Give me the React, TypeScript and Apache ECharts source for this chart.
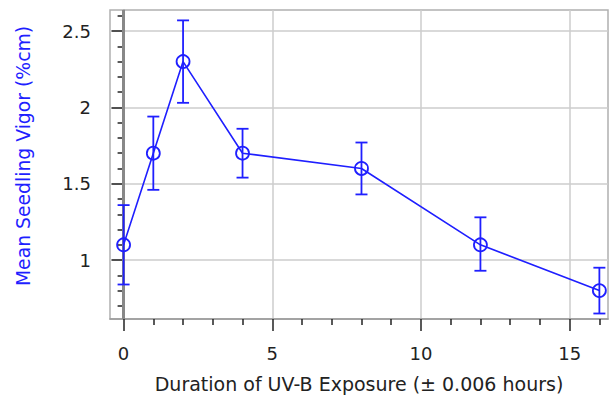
import React, { useEffect, useRef } from "react";
import * as echarts from "echarts";

const hours = [0, 1, 2, 4, 8, 12, 16];
const vigor = [1.1, 1.7, 2.3, 1.7, 1.6, 1.1, 0.8];
const errLow = [0.84, 1.46, 2.03, 1.54, 1.43, 0.93, 0.65];
const errHigh = [1.36, 1.94, 2.57, 1.86, 1.77, 1.28, 0.95];
const xMajor = [0, 5, 10, 15];
const xMinor = [1, 2, 3, 4, 6, 7, 8, 9, 11, 12, 13, 14, 16];
const yMajor = [1, 1.5, 2, 2.5];
const yMinor = [0.7, 0.8, 0.9, 1.1, 1.2, 1.3, 1.4, 1.6, 1.7, 1.8, 1.9, 2.1, 2.2, 2.3, 2.4, 2.6];

const X_MIN = -0.457;
const X_MAX = 16.29;
const Y_MIN = 0.614;
const Y_MAX = 2.638;

const BLUE = "#1f1fff";
const FONT = "DejaVu Sans, Verdana, sans-serif";

export default function App() {
  const ref = useRef<HTMLDivElement>(null);
  useEffect(() => {
    const chart = echarts.init(ref.current!, null, { renderer: "svg" });
    const errData = hours.map((h, i) => [h, errLow[i], errHigh[i]]);
    chart.setOption({
      animation: false,
      backgroundColor: "#ffffff",
      textStyle: { fontFamily: FONT },
      grid: {
        left: 110,
        top: 10,
        width: 498,
        height: 309,
        show: true,
        borderColor: "#b0b0b0",
        borderWidth: 1.5,
        backgroundColor: "transparent",
      },
      xAxis: [
        {
          type: "value",
          min: X_MIN,
          max: X_MAX,
          splitNumber: 3,
          position: "bottom",
          axisLine: { show: true, lineStyle: { color: "#999", width: 1.5 } },
          axisTick: {
            show: true,
            customValues: xMajor,
            length: 12,
            lineStyle: { color: "#222", width: 1.5 },
          },
          axisLabel: {
            customValues: xMajor,
            fontSize: 18,
            color: "#222",
            margin: 25,
            fontFamily: FONT,
          },
          splitLine: { show: true, lineStyle: { color: "#cccccc", width: 1.5 } },
          name: "Duration of UV-B Exposure (± 0.006 hours)",
          nameLocation: "middle",
          nameGap: 55,
          nameTextStyle: { fontSize: 19, color: "#222", fontFamily: FONT },
        },
        {
          type: "value",
          min: X_MIN,
          max: X_MAX,
          position: "bottom",
          axisLine: { show: false },
          axisTick: {
            show: true,
            customValues: xMinor,
            length: 6,
            lineStyle: { color: "#222", width: 1.5 },
          },
          axisLabel: { show: false },
          splitLine: { show: false },
        },
      ],
      yAxis: [
        {
          type: "value",
          min: Y_MIN,
          max: Y_MAX,
          splitNumber: 4,
          position: "left",
          axisLine: { show: true, lineStyle: { color: "#999", width: 1.5 } },
          axisTick: {
            show: true,
            customValues: yMajor,
            length: 12,
            lineStyle: { color: "#222", width: 1.5 },
          },
          axisLabel: {
            customValues: yMajor,
            fontSize: 18,
            color: "#222",
            margin: 19,
            fontFamily: FONT,
          },
          splitLine: { show: true, lineStyle: { color: "#cccccc", width: 1.5 } },
        },
        {
          type: "value",
          min: Y_MIN,
          max: Y_MAX,
          position: "left",
          axisLine: { show: false },
          axisTick: {
            show: true,
            customValues: yMinor,
            length: 6,
            lineStyle: { color: "#222", width: 1.5 },
          },
          axisLabel: { show: false },
          splitLine: { show: false },
        },
      ],
      graphic: [
        {
          type: "text",
          x: 23,
          y: 156,
          rotation: Math.PI / 2,
          style: {
            text: "Mean Seedling Vigor (%cm)",
            fill: BLUE,
            fontSize: 18.8,
            fontFamily: FONT,
            align: "center",
            verticalAlign: "middle",
          },
        },
      ],
      series: [
        {
          type: "line",
          data: [],
          z: 1,
          markLine: {
            silent: true,
            z: 1,
            symbol: ["none", "none"],
            label: { show: false },
            lineStyle: { color: "#888", width: 3, type: "solid" },
            data: [{ xAxis: 0 }],
          },
        },
        {
          type: "custom",
          z: 6,
          data: errData,
          renderItem: (params: any, api: any) => {
            const x = api.value(0);
            const lo = api.coord([x, api.value(1)]);
            const hi = api.coord([x, api.value(2)]);
            const hw = 6;
            const style = { stroke: BLUE, lineWidth: 1.8 };
            return {
              type: "group",
              children: [
                { type: "line", shape: { x1: lo[0], y1: lo[1], x2: hi[0], y2: hi[1] }, style },
                { type: "line", shape: { x1: lo[0] - hw, y1: lo[1], x2: lo[0] + hw, y2: lo[1] }, style },
                { type: "line", shape: { x1: hi[0] - hw, y1: hi[1], x2: hi[0] + hw, y2: hi[1] }, style },
              ],
            };
          },
        },
        {
          type: "line",
          z: 7,
          data: hours.map((h, i) => [h, vigor[i]]),
          symbol: "circle",
          symbolSize: 13,
          itemStyle: { color: "rgba(0,0,0,0)", borderColor: BLUE, borderWidth: 1.8 },
          lineStyle: { color: BLUE, width: 1.6 },
        },
      ],
    });
    return () => chart.dispose();
  }, []);
  return <div ref={ref} style={{ width: 609, height: 398, position: "absolute", left: 0, top: 0 }} />;
}
